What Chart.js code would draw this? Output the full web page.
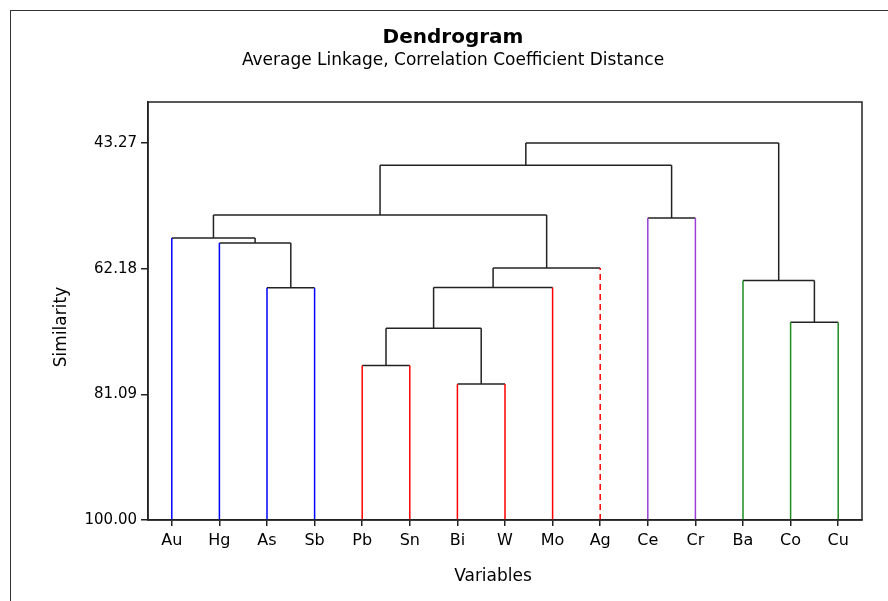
<!DOCTYPE html>
<html>
<head>
<meta charset="utf-8">
<title>Dendrogram</title>
<script src="https://cdn.jsdelivr.net/npm/chart.js@4.4.1/dist/chart.umd.min.js"></script>
<style>
  html, body { margin: 0; padding: 0; background: #fff; }
</style>
</head>
<body>
<canvas id="dendrograma" width="888" height="601"></canvas>
<script>
// folhas na ordem do eixo X
const variaveis = ['Au', 'Hg', 'As', 'Sb', 'Pb', 'Sn', 'Bi', 'W', 'Mo', 'Ag', 'Ce', 'Cr', 'Ba', 'Co', 'Cu'];
// grupo de cada folha (0 azul, 1 vermelho, 2 roxo, 3 verde)
const grupos = [0, 0, 0, 0, 1, 1, 1, 1, 1, 1, 2, 2, 3, 3, 3];
// uniões: nós 0..14 são folhas, a união k cria o nó 15 + k
const uniaoEsq = [2, 1, 0, 4, 6, 18, 20, 21, 17, 10, 23, 13, 12, 25];
const uniaoDir = [3, 15, 16, 5, 7, 19, 8, 9, 22, 11, 24, 14, 26, 27];
const similaridade = [65.07, 58.31, 57.55, 76.74, 79.55, 71.13, 65.01, 62.07, 54.10, 54.55, 46.62, 70.23, 63.96, 43.27];
const ticksY = [43.27, 62.18, 81.09, 100.00];
const tracejadas = ['Ag'];

const cores = ['#0000ff', '#ff0000', '#9b3fd6', '#1e8c1e'];
const corLinha = '#222';
const fonte = '"DejaVu Sans", Verdana, sans-serif';

// posições dos nós (em unidades do eixo)
const nx = variaveis.map((_, i) => i);
const ny = variaveis.map(() => 100);
const segmentos = [];

const linha = (pts, cor, tracejado) => ({
    data: pts,
    showLine: true,
    borderColor: cor,
    borderWidth: 1.5,
    borderDash: tracejado ? [6, 4] : [],
    pointRadius: 0,
    clip: 4
});

similaridade.forEach((s, k) => {
    const a = uniaoEsq[k], b = uniaoDir[k];
    [a, b].forEach(f => {
        const folha = f < variaveis.length;
        const cor = folha ? cores[grupos[f]] : corLinha;
        const tracejado = folha && tracejadas.includes(variaveis[f]);
        segmentos.push(linha([{ x: nx[f], y: ny[f] }, { x: nx[f], y: s }], cor, tracejado));
    });
    segmentos.push(linha([{ x: nx[a], y: s }, { x: nx[b], y: s }], corLinha, false));
    nx.push((nx[a] + nx[b]) / 2);
    ny.push(s);
});

const textos = {
    id: 'textos',
    beforeDraw(chart) {
        const ctx = chart.ctx;
        ctx.save();
        ctx.strokeStyle = '#333';
        ctx.lineWidth = 1;
        ctx.strokeRect(10.5, 10.5, 1000, 1000);
        ctx.restore();
    },
    afterDraw(chart) {
        const ctx = chart.ctx;
        const a = chart.chartArea;
        ctx.save();
        ctx.strokeStyle = corLinha;
        ctx.lineWidth = 1.5;
        ctx.strokeRect(a.left, a.top, a.right - a.left, a.bottom - a.top);

        ctx.fillStyle = '#000';
        ctx.textAlign = 'center';
        ctx.textBaseline = 'alphabetic';
        ctx.font = 'bold 20px ' + fonte;
        ctx.fillText('Dendrogram', 453, 43);
        ctx.font = '17px ' + fonte;
        ctx.fillText('Average Linkage, Correlation Coefficient Distance', 453, 65);

        ctx.textBaseline = 'middle';
        ctx.font = '17px ' + fonte;
        ctx.fillText('Variables', 493, 577);
        ctx.translate(62, 327);
        ctx.rotate(-Math.PI / 2);
        ctx.fillText('Similarity', 0, 0);
        ctx.restore();
    }
};

new Chart(document.getElementById('dendrograma'), {
    type: 'scatter',
    data: { datasets: segmentos },
    options: {
        responsive: false,
        animation: false,
        layout: { padding: { top: 102, right: 26, left: 0, bottom: 0 } },
        plugins: { legend: { display: false }, tooltip: { enabled: false } },
        scales: {
            x: {
                type: 'linear',
                min: -0.5,
                max: variaveis.length - 0.5,
                afterBuildTicks: s => { s.ticks = variaveis.map((_, i) => ({ value: i })); },
                afterFit: s => { s.height = 81; },
                ticks: {
                    callback: v => variaveis[v],
                    color: '#000',
                    font: { family: fonte, size: 16 },
                    padding: 5,
                    maxRotation: 0,
                    autoSkip: false
                },
                grid: { drawOnChartArea: false, drawTicks: true, tickLength: 6, color: corLinha, lineWidth: 1.5 },
                border: { display: true, color: corLinha, width: 1.5 }
            },
            y: {
                type: 'linear',
                reverse: true,
                min: 37.1,
                max: 100,
                afterBuildTicks: s => { s.ticks = ticksY.map(v => ({ value: v })); },
                afterFit: s => { s.width = 148; },
                ticks: {
                    callback: v => v.toFixed(2),
                    color: '#000',
                    font: { family: fonte, size: 15 },
                    padding: 4
                },
                grid: { drawOnChartArea: false, drawTicks: true, tickLength: 7, color: corLinha, lineWidth: 1.5 },
                border: { display: true, color: corLinha, width: 1.5 }
            }
        }
    },
    plugins: [textos]
});
</script>
</body>
</html>
